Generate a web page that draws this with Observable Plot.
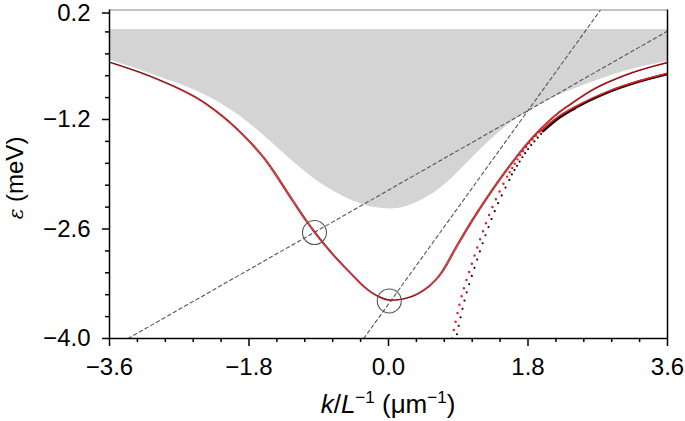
<!DOCTYPE html>
<html>
<head>
<meta charset="utf-8">
<script src="https://cdn.jsdelivr.net/npm/d3@7"></script>
<script src="https://cdn.jsdelivr.net/npm/@observablehq/plot@0.6"></script>
<style>
  html, body { margin: 0; padding: 0; background: #fff; }
  #chart svg { display: block; }
</style>
</head>
<body>
<div id="chart"></div>
<script>
// ---- data ----
// continuum (gray band): lower boundary, upper edge
const gapK = [-3.6, -3.0, -2.36, -1.94, -1.59, -1.24, -0.9, -0.55, -0.21, 0.03, 0.45, 0.67, 0.89, 1.10, 1.32, 1.53, 1.83, 2.18, 2.61, 3.03, 3.6];
const gapE = [-0.44, -0.64, -0.89, -1.14, -1.42, -1.73, -2.0, -2.2, -2.32, -2.345, -2.22, -2.08, -1.88, -1.67, -1.46, -1.28, -1.08, -0.90, -0.73, -0.59, -0.46];
const gapTop = -0.05;

// bound state (U-shaped curve)
const uK = [-3.6, -3.0, -2.36, -1.94, -1.59, -1.24, -1.07, -0.955, -0.71, -0.49, -0.27, -0.12, 0.02, 0.2, 0.37, 0.67, 0.886, 1.10, 1.32, 1.53, 1.74, 1.96, 2.18, 2.35, 2.61, 3.03, 3.6];
const uE = [-0.47, -0.68, -1.0, -1.34, -1.72, -2.24, -2.49, -2.645, -2.94, -3.17, -3.38, -3.47, -3.51, -3.49, -3.43, -3.17, -2.80, -2.45, -2.12, -1.83, -1.56, -1.32, -1.12, -1.0, -0.83, -0.64, -0.47];

// dotted branch
const dK = [0.82, 0.92, 1.08, 1.20, 1.32, 1.53, 1.74, 1.96, 2.18, 2.40, 2.83, 3.20, 3.6];
const dE = [-4.0, -3.55, -3.03, -2.68, -2.37, -1.93, -1.60, -1.35, -1.17, -1.04, -0.84, -0.715, -0.61];

// dashed guide lines
const dash1K = [-3.36, 3.6];
const dash1E = [-4.0, -0.07];
const dash2K = [-0.32, 2.735];
const dash2E = [-4.0, 0.2];

// circled points
const circK = [-0.955, 0.01];
const circE = [-2.645, -3.52];

// axes
const xTicks = [-3.6, -1.8, 0.0, 1.8, 3.6];
const xMinor = [-3.24, -2.88, -2.52, -2.16, -1.44, -1.08, -0.72, -0.36, 0.36, 0.72, 1.08, 1.44, 2.16, 2.52, 2.88, 3.24];
const yTicks = [0.2, -1.2, -2.6, -4.0];
const yMinor = [-0.08, -0.36, -0.64, -0.92, -1.48, -1.76, -2.04, -2.32, -2.88, -3.16, -3.44, -3.72];

// ---- build ----
const zip = (k, e) => k.map((v, i) => ({k: v, e: e[i]}));
const gap = zip(gapK, gapE);
const ucurve = zip(uK, uE);
const dcurve = zip(dK, dE);
const dash1 = zip(dash1K, dash1E);
const dash2 = zip(dash2K, dash2E);
const circ = zip(circK, circE);
const fmt = d => d.toFixed(1).replace("-", "\u2212");
const RED = "#ee1c25";
const BLK = "#111";
const CURVE = "monotone-x";

const dSteep = dcurve.filter(d => d.k <= 1.53);
const dMid = dcurve.filter(d => d.k >= 1.53 && d.k <= 2.0);
const dFlat = dcurve.filter(d => d.k >= 1.96);

const dotted = (data, gapLen, color, shift, offset, w) =>
  Plot.line(data, {x: "k", y: "e", stroke: color, strokeWidth: w, strokeLinecap: "round",
    strokeDasharray: `0,${gapLen}`, strokeDashoffset: offset, curve: CURVE, dx: shift, clip: true});

const chart = Plot.plot({
  width: 685,
  height: 421,
  marginLeft: 109,
  marginRight: 18,
  marginTop: 9.5,
  marginBottom: 83,
  x: {domain: [-3.6, 3.6]},
  y: {domain: [-4.0, 0.2]},
  style: {fontFamily: "'Liberation Sans', Arial, sans-serif", fontSize: "24px", background: "#fff", color: "#000"},
  marks: [
    Plot.areaY(gap, {x: "k", y1: "e", y2: () => gapTop, fill: "#d4d4d4", curve: CURVE}),
    Plot.line(dash1, {x: "k", y: "e", stroke: "#555", strokeWidth: 1.1, strokeDasharray: "3.5,3", clip: true}),
    Plot.line(dash2, {x: "k", y: "e", stroke: "#555", strokeWidth: 1.1, strokeDasharray: "3.5,3", clip: true}),
    // bound-state curve: red and black
    Plot.line(ucurve, {x: "k", y: "e", stroke: RED, strokeWidth: 1.5, curve: CURVE, clip: true}),
    Plot.line(ucurve, {x: "k", y: "e", stroke: BLK, strokeWidth: 0.7, curve: CURVE, dx: 1.4, clip: true}),
    // dotted branch: sparse dots on the steep part, denser higher up, merged on the flat part
    dotted(dSteep, 8.6, BLK, 4, 4.3, 2.2),
    dotted(dSteep, 8.6, RED, 0, 0, 2.5),
    dotted(dMid, 5, BLK, 3.5, 2.5, 2.2),
    dotted(dMid, 5, RED, 0, 0, 2.4),
    Plot.line(dFlat, {x: "k", y: "e", stroke: BLK, strokeWidth: 2.6, curve: CURVE, dx: 2.5, clip: true}),
    Plot.line(dFlat, {x: "k", y: "e", stroke: RED, strokeWidth: 1.5, curve: CURVE, clip: true}),
    Plot.dot(circ, {x: "k", y: "e", r: 12, stroke: "#555", strokeWidth: 1.1, fill: "none"}),
    // frame
    Plot.ruleY([0.2], {stroke: "#888", strokeWidth: 1.2}),
    Plot.ruleX([3.6], {stroke: "#000", strokeWidth: 1.5}),
    Plot.ruleX([-3.6], {stroke: "#000", strokeWidth: 1.5}),
    Plot.ruleY([-4.0], {stroke: "#000", strokeWidth: 1.5}),
    // axes
    Plot.axisX({ticks: xTicks, tickSize: 8, tickPadding: 11, tickFormat: fmt, label: null, strokeWidth: 1.5}),
    Plot.axisX({ticks: xMinor, tickSize: 4, tickFormat: () => "", label: null, strokeWidth: 1.5}),
    Plot.axisY({ticks: yTicks.slice(1), tickSize: 7, tickPadding: 12, tickFormat: fmt, label: null, strokeWidth: 1.5}),
    Plot.axisY({ticks: yTicks.slice(0, 1), tickSize: 7, tickPadding: 12, tickFormat: fmt, label: null, strokeWidth: 1.5, dy: 3}),
    Plot.axisY({ticks: yMinor, tickSize: 4, tickFormat: () => "", label: null, strokeWidth: 1.5})
  ]
});

document.getElementById("chart").appendChild(chart);

// axis titles with italic and superscript parts
const svg = d3.select(chart);
const xl = svg.append("text")
  .attr("x", 388).attr("y", 413)
  .attr("text-anchor", "middle")
  .attr("font-size", 26)
  .attr("fill", "#000");
xl.append("tspan").attr("font-style", "italic").text("k");
xl.append("tspan").text("/");
xl.append("tspan").attr("font-style", "italic").text("L");
xl.append("tspan").attr("font-size", 17).attr("dy", -10).text("\u22121");
xl.append("tspan").attr("dy", 10).text(" (\u03bcm");
xl.append("tspan").attr("font-size", 17).attr("dy", -10).text("\u22121");
xl.append("tspan").attr("dy", 10).text(")");

const yl = svg.append("text")
  .attr("transform", "translate(23,178) rotate(-90)")
  .attr("text-anchor", "middle")
  .attr("font-size", 24)
  .attr("fill", "#000");
yl.append("tspan").attr("font-style", "italic").attr("font-family", "'DejaVu Serif', serif").attr("font-size", 20).text("\u03b5");
yl.append("tspan").text(" (meV)");
</script>
</body>
</html>
